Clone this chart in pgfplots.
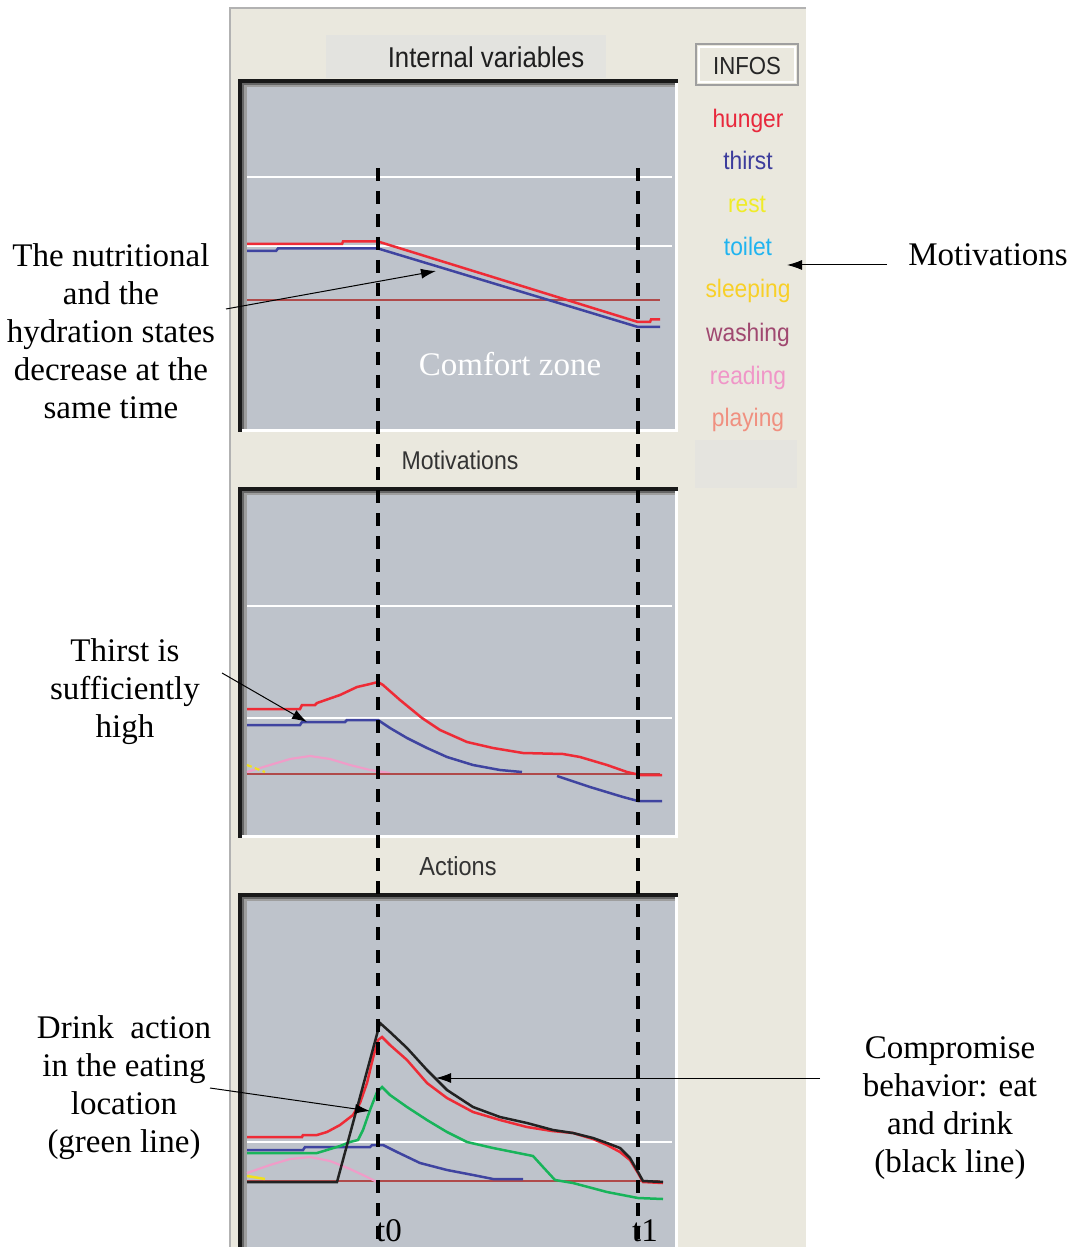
\documentclass[border=0pt]{standalone}
\usepackage{fontspec}
\setmainfont{Liberation Serif}
\newfontfamily\uifont[FakeStretch=0.9]{Liberation Sans}
\usepackage{pgfplots}
\pgfplotsset{compat=1.18}
\usetikzlibrary{arrows.meta}
\definecolor{panel}{HTML}{EAE8DE}
\definecolor{plotbg}{HTML}{BEC3CB}
\definecolor{titlebox}{HTML}{E3E3DF}
\definecolor{hungerc}{HTML}{EE2B36}
\definecolor{thirstc}{HTML}{3F44A0}
\definecolor{brownc}{HTML}{B04A4A}
\definecolor{greenc}{HTML}{18B45A}
\definecolor{pinkc}{HTML}{F09CC8}
\definecolor{yellowc}{HTML}{F0E020}
\definecolor{blackc}{HTML}{222222}
\definecolor{lhunger}{HTML}{E8283C}
\definecolor{lthirst}{HTML}{3C3C9C}
\definecolor{lrest}{HTML}{F0EC28}
\definecolor{ltoilet}{HTML}{20B4F0}
\definecolor{lsleeping}{HTML}{F8D028}
\definecolor{lwashing}{HTML}{A04870}
\definecolor{lreading}{HTML}{F096C8}
\definecolor{lplaying}{HTML}{F09080}
\newcommand{\annot}{\fontsize{19.8}{22.8}\selectfont}
\newcommand{\legf}{\uifont\fontsize{15.2}{17}\selectfont}
\begin{document}
\begin{tikzpicture}
\path[use as bounding box] (0,0) rectangle (645.6pt,748.2pt);
\begin{axis}[at={(0,0)},anchor=south west,width=645.6pt,height=748.2pt,scale only axis,
  xmin=0,xmax=1076,ymin=0,ymax=1247,y dir=reverse,hide axis,clip=false]
% backgrounds
\fill[white] (axis cs:0,0) rectangle (axis cs:1076,1247);
\fill[panel] (axis cs:231,8) rectangle (axis cs:806,1247);
\draw[gray!60,line width=1pt] (axis cs:230,1247) -- (axis cs:230,8) -- (axis cs:806,8);
\fill[titlebox] (axis cs:326,35) rectangle (axis cs:606,78);
\fill[titlebox!70!panel] (axis cs:695,440) rectangle (axis cs:797,488);
% INFOS button
\fill[panel] (axis cs:696,44) rectangle (axis cs:798,85);
\draw[gray!75,line width=1.2pt] (axis cs:696,44) rectangle (axis cs:798,85);
\draw[white,line width=0.8pt] (axis cs:699,47) rectangle (axis cs:795,82);
% plot frame 1
\fill[plotbg] (axis cs:238,79) rectangle (axis cs:678,432);
\fill[white] (axis cs:675,79) rectangle (axis cs:678,432);
\fill[white] (axis cs:238,429) rectangle (axis cs:678,432);
\fill[black!90] (axis cs:238,79) rectangle (axis cs:678,83);
\fill[black!90] (axis cs:238,79) rectangle (axis cs:242,432);
\fill[black!60] (axis cs:242,83) rectangle (axis cs:675,85);
\fill[black!60] (axis cs:242,83) rectangle (axis cs:244,429);
\fill[black!38] (axis cs:244,85) rectangle (axis cs:675,87);
\fill[black!38] (axis cs:244,85) rectangle (axis cs:247,429);
% plot frame 2
\fill[plotbg] (axis cs:238,487) rectangle (axis cs:678,838);
\fill[white] (axis cs:675,487) rectangle (axis cs:678,838);
\fill[white] (axis cs:238,835) rectangle (axis cs:678,838);
\fill[black!90] (axis cs:238,487) rectangle (axis cs:678,491);
\fill[black!90] (axis cs:238,487) rectangle (axis cs:242,838);
\fill[black!60] (axis cs:242,491) rectangle (axis cs:675,493);
\fill[black!60] (axis cs:242,491) rectangle (axis cs:244,835);
\fill[black!38] (axis cs:244,493) rectangle (axis cs:675,495);
\fill[black!38] (axis cs:244,493) rectangle (axis cs:247,835);
% plot frame 3
\fill[plotbg] (axis cs:238,893) rectangle (axis cs:678,1247);
\fill[white] (axis cs:675,893) rectangle (axis cs:678,1247);
\fill[black!90] (axis cs:238,893) rectangle (axis cs:678,897);
\fill[black!90] (axis cs:238,893) rectangle (axis cs:242,1247);
\fill[black!60] (axis cs:242,897) rectangle (axis cs:675,899);
\fill[black!60] (axis cs:242,897) rectangle (axis cs:244,1247);
\fill[black!38] (axis cs:244,899) rectangle (axis cs:675,901);
\fill[black!38] (axis cs:244,899) rectangle (axis cs:247,1247);
% titles
\node[font={\uifont\fontsize{17.2}{19}\selectfont},text=black!88,anchor=base] at (axis cs:486,68) {Internal variables};
\node[font={\uifont\fontsize{15.4}{17}\selectfont},text=black!80,anchor=base] at (axis cs:460,469) {Motivations};
\node[font={\uifont\fontsize{15.7}{17}\selectfont},text=black!80,anchor=base] at (axis cs:458,875) {Actions};
\node[font={\uifont\fontsize{14.8}{17}\selectfont},text=black!85,anchor=base] at (axis cs:747,75) {INFOS};
% legend
\node[font=\legf,text=lhunger,anchor=base] at (axis cs:748,128) {hunger};
\node[font=\legf,text=lthirst,anchor=base] at (axis cs:748,170) {thirst};
\node[font=\legf,text=lrest,anchor=base] at (axis cs:747,213) {rest};
\node[font=\legf,text=ltoilet,anchor=base] at (axis cs:748,256) {toilet};
\node[font=\legf,text=lsleeping,anchor=base] at (axis cs:748,298) {sleeping};
\node[font=\legf,text=lwashing,anchor=base] at (axis cs:748,342) {washing};
\node[font=\legf,text=lreading,anchor=base] at (axis cs:748,385) {reading};
\node[font=\legf,text=lplaying,anchor=base] at (axis cs:748,427) {playing};
% ---------- plot 1: internal variables ----------
\addplot[white,line width=1.4pt] coordinates {(247,177) (672,177)};
\addplot[white,line width=1.4pt] coordinates {(247,246) (672,246)};
\addplot[brownc,line width=1.3pt] coordinates {(247,300) (660,300)};
\addplot[thirstc,line width=1.5pt] coordinates {(247,251) (276,251) (278,248.5) (378,248.5) (638,327) (660,327)};
\addplot[hungerc,line width=1.5pt] coordinates {(247,244) (342,244) (343,241.5) (378,241.5) (638,322) (650,322) (651,319.5) (660,319.5)};
% ---------- plot 2: motivations ----------
\addplot[white,line width=1.4pt] coordinates {(247,606) (672,606)};
\addplot[white,line width=1.4pt] coordinates {(247,718) (672,718)};
\addplot[pinkc,line width=1.3pt] coordinates {(247,772) (270,765) (290,759) (310,756) (330,759) (350,765) (370,770) (390,773)};
\addplot[yellowc,line width=1.3pt,dash pattern=on 3pt off 2pt] coordinates {(247,765) (265,772)};
\addplot[brownc,line width=1.3pt] coordinates {(247,774) (660,774)};
\addplot[thirstc,line width=1.5pt] coordinates {(247,725) (300,725) (302,722) (345,722) (347,720) (378,720) (390,728) (407,738) (427,748) (447,757) (473,765) (500,770) (522,772)};
\addplot[thirstc,line width=1.5pt] coordinates {(557,776) (590,787) (623,797) (638,801) (662,801)};
\addplot[hungerc,line width=1.5pt] coordinates {(247,709) (300,709) (302,705) (315,705) (317,703) (340,695) (357,687) (370,684) (378,682) (383,685) (400,700) (422,718) (440,730) (467,742) (493,748) (523,753) (563,754) (580,757) (607,765) (627,772) (640,775) (662,775)};
% ---------- plot 3: actions ----------
\addplot[white,line width=1.4pt] coordinates {(247,1142) (672,1142)};
\addplot[brownc,line width=1.3pt] coordinates {(247,1181) (660,1181)};
\addplot[pinkc,line width=1.3pt] coordinates {(247,1173) (270,1165) (290,1159) (310,1157) (330,1161) (350,1169) (365,1176) (377,1182)};
\addplot[yellowc,line width=1.5pt] coordinates {(247,1176) (265,1179)};
\addplot[thirstc,line width=1.5pt] coordinates {(247,1150) (303,1150) (305,1147) (370,1147) (372,1145) (383,1145) (397,1152) (420,1163) (447,1170) (473,1175) (493,1179) (523,1179)};
\addplot[greenc,line width=1.5pt] coordinates {(247,1153) (317,1153) (327,1150) (340,1146) (350,1142) (358,1140) (363,1130) (370,1110) (377,1092) (382,1087) (390,1095) (407,1107) (427,1120) (447,1132) (467,1142) (493,1148) (533,1156) (543,1167) (555,1180) (573,1183) (607,1192) (638,1198) (663,1199)};
\addplot[hungerc,line width=1.5pt] coordinates {(247,1137) (302,1137) (303,1135) (317,1135) (327,1132) (340,1125) (353,1115) (360,1103) (367,1083) (373,1058) (378,1040) (382,1037) (390,1045) (407,1060) (427,1083) (447,1098) (473,1112) (500,1120) (527,1127) (552,1131) (573,1133) (593,1139) (607,1145) (620,1152) (630,1160) (638,1173) (643,1182) (663,1183)};
\addplot[blackc,line width=1.5pt] coordinates {(247,1182) (337,1182) (380,1023) (390,1032) (407,1048) (427,1070) (447,1090) (473,1107) (500,1117) (527,1123) (553,1130) (573,1133) (593,1138) (607,1143) (620,1148) (630,1158) (638,1172) (643,1181) (663,1182)};
% dashed time markers
\draw[black,line width=2.6pt,dash pattern=on 8pt off 5.8pt] (axis cs:378,168) -- (axis cs:378,1247);
\draw[black,line width=2.6pt,dash pattern=on 8pt off 5.8pt] (axis cs:638,168) -- (axis cs:638,1247);
\node[font=\annot] at (axis cs:389,1231) {t0};
\node[font=\annot] at (axis cs:645,1231) {t1};
\node[font=\annot,text=white] at (axis cs:510,364) {Comfort zone};
% annotations
\node[font=\annot,align=center] at (axis cs:111,331) {The nutritional\\and the\\hydration states\\decrease at the\\same time};
\draw[black,line width=0.6pt,-{Latex[length=9pt,width=6pt]}] (axis cs:226,309) -- (axis cs:436,271);
\node[font=\annot,anchor=base] at (axis cs:988,266) {Motivations};
\draw[black,line width=0.6pt,-{Latex[length=9pt,width=6pt]}] (axis cs:887,265) -- (axis cs:787,265);
\node[font=\annot,align=center] at (axis cs:125,692) {Thirst is\\sufficiently\\high};
\draw[black,line width=0.6pt,-{Latex[length=9pt,width=6pt]}] (axis cs:222,673) -- (axis cs:307,722);
\node[font=\annot,align=center] at (axis cs:124,1088) {Drink\ \ action\\in the eating\\location\\(green line)};
\draw[black,line width=0.6pt,-{Latex[length=9pt,width=6pt]}] (axis cs:210,1088) -- (axis cs:370,1111);
\node[font=\annot,align=center] at (axis cs:950,1108) {Compromise\\behavior: eat\\and drink\\(black line)};
\draw[black,line width=0.6pt,-{Latex[length=9pt,width=6pt]}] (axis cs:820,1078) -- (axis cs:436,1078);
\end{axis}
\end{tikzpicture}
\end{document}
